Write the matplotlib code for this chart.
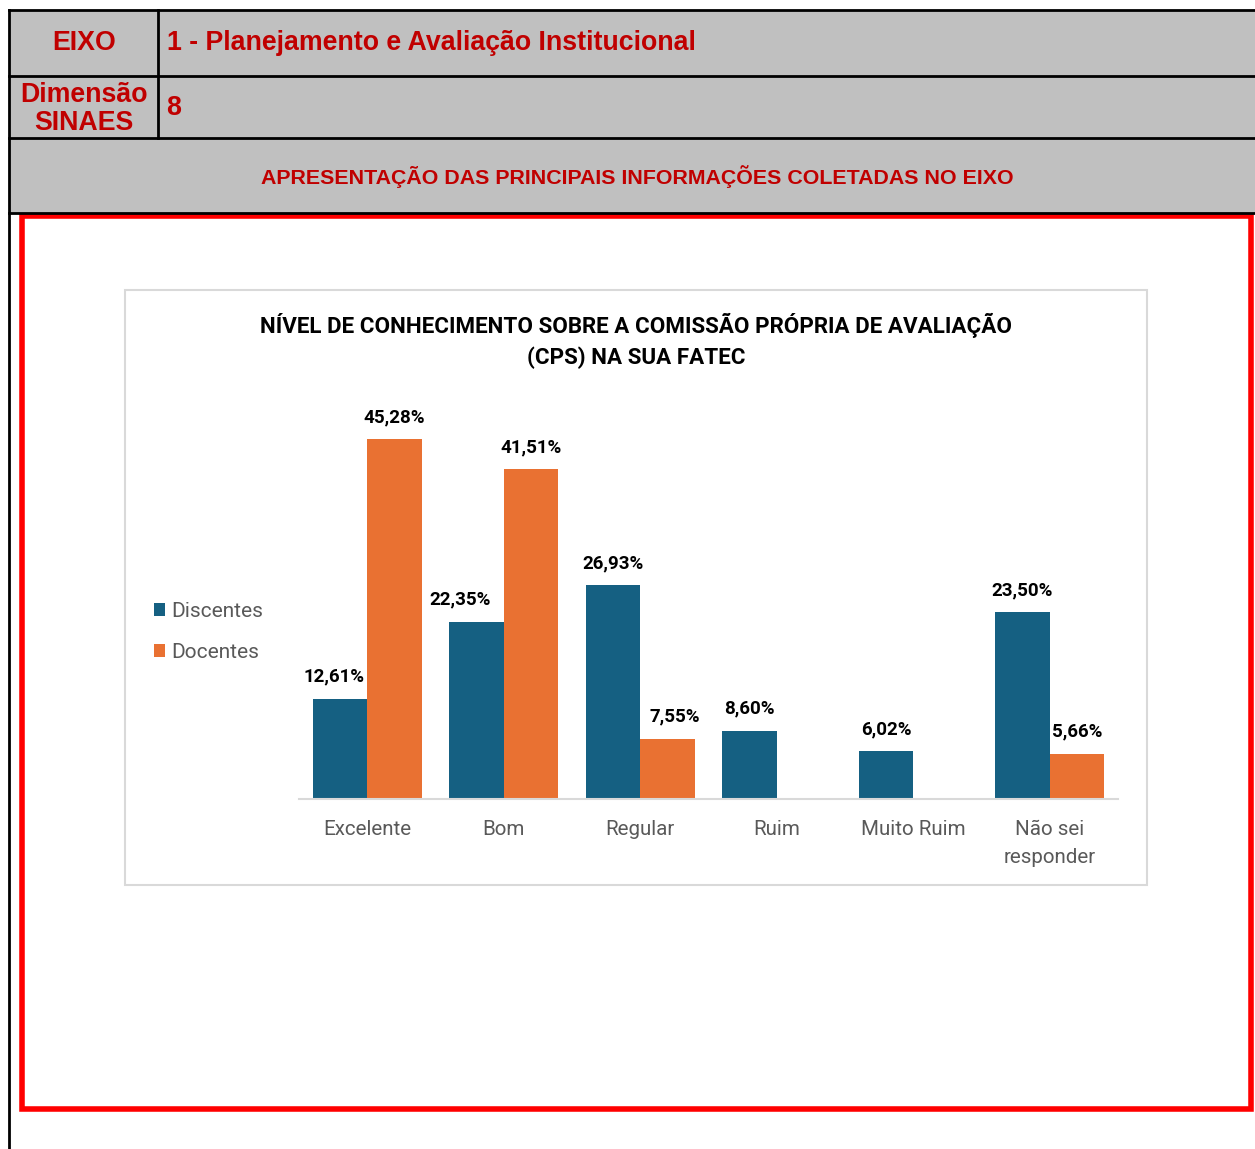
import matplotlib
matplotlib.use("Agg")
import matplotlib.pyplot as plt
from matplotlib.patches import Rectangle
import numpy as np

# ---- data ----
categories = ["Excelente", "Bom", "Regular", "Ruim", "Muito Ruim", "Não sei\nresponder"]
discentes = [12.61, 22.35, 26.93, 8.60, 6.02, 23.50]
docentes = [45.28, 41.51, 7.55, None, None, 5.66]
series_names = ["Discentes", "Docentes"]
chart_title = "NÍVEL DE CONHECIMENTO SOBRE A COMISSÃO PRÓPRIA DE AVALIAÇÃO\n(CPS) NA SUA FATEC"
header_eixo = "EIXO"
header_eixo_val = "1 - Planejamento e Avaliação Institucional"
header_dim = "Dimensão\nSINAES"
header_dim_val = "8"
header_apres = "APRESENTAÇÃO DAS PRINCIPAIS INFORMAÇÕES COLETADAS NO EIXO"

W, H = 1255, 1149
fig = plt.figure(figsize=(W / 100, H / 100), dpi=100)
fig.patch.set_facecolor("white")

def fx(x):
    return x / W

def fy(y):
    return 1 - y / H

def rect(x0, y0, x1, y1, **kw):
    fig.patches.append(Rectangle((fx(x0), fy(y1)), fx(x1) - fx(x0), fy(y0) - fy(y1),
                                 transform=fig.transFigure, figure=fig, **kw))

def hline(y, x0, x1, color="black", lw=2):
    fig.add_artist(plt.Line2D([fx(x0), fx(x1)], [fy(y), fy(y)], transform=fig.transFigure,
                              color=color, lw=lw))

def vline(x, y0, y1, color="black", lw=2):
    fig.add_artist(plt.Line2D([fx(x), fx(x)], [fy(y0), fy(y1)], transform=fig.transFigure,
                              color=color, lw=lw))

GRAY = "#c0c0c0"
RED_T = "#c00000"

# header table
rect(9, 10, W + 5, 213, facecolor=GRAY, edgecolor="none")
hline(10, 9, W)
hline(75.5, 9, W)
hline(138, 9, W)
hline(213, 9, W)
vline(9, 10, H)
vline(158, 10, 138)

hfont = dict(family="Liberation Sans", weight="bold", color=RED_T)
fig.text(fx(84), fy(43), header_eixo, ha="center", va="center", fontsize=19.3, **hfont)
fig.text(fx(167), fy(43), header_eixo_val, ha="left", va="center", fontsize=19.3, **hfont)
fig.text(fx(84), fy(109), header_dim, ha="center", va="center", fontsize=19.3,
         linespacing=1.12, **hfont)
fig.text(fx(166), fy(108), header_dim_val, ha="left", va="center", fontsize=19.3, **hfont)
fig.text(fx(637), fy(177), header_apres, ha="center", va="center", fontsize=15.4, **hfont)

# red box
rect(21.5, 216, 1251, 1109, facecolor="white", edgecolor="#ff0000", lw=4)

# chart box
rect(125, 290, 1147, 885, facecolor="white", edgecolor="#d9d9d9", lw=1.5)

fig.text(fx(636), fy(341), chart_title, ha="center", va="center", fontsize=16.1,
         family="Roboto", weight="bold", color="black", linespacing=1.5)

# axes
ax = fig.add_axes([fx(299), fy(799), fx(1118) - fx(299), (799 - 402) / H])
ax.set_zorder(5)
ax.set_facecolor("none")
BLUE = "#156082"
ORANGE = "#e97132"
x = np.arange(len(categories))
bw = 0.4
d_vals = np.array(discentes, dtype=float)
o_vals = np.array([v if v is not None else 0 for v in docentes], dtype=float)
b1 = ax.bar(x - bw / 2, d_vals, width=bw, color=BLUE, label=series_names[0])
b2 = ax.bar(x + bw / 2, o_vals, width=bw, color=ORANGE, label=series_names[1])
ax.set_xlim(-0.5, len(categories) - 0.5)
ax.set_ylim(0, 50)
for s in ["top", "right", "left"]:
    ax.spines[s].set_visible(False)
ax.spines["bottom"].set_color("#d9d9d9")
ax.spines["bottom"].set_linewidth(1.5)
ax.set_yticks([])
ax.set_xticks(x)
ax.set_xticklabels(categories, fontsize=14.8, color="#595959", family="Roboto", linespacing=1.6)
ax.tick_params(axis="x", length=0, pad=15)

def fmt(v):
    return f"{v:.2f}".replace(".", ",") + "%"

d_dx = [-4, -12, 0, 0, 0, 0]
o_dx = [0, 0, 5, 0, 0, 0]
for i, v in enumerate(discentes):
    ax.annotate(fmt(v), (x[i] - bw / 2, v), xytext=(d_dx[i], 16), textcoords="offset points",
                ha="center", va="center", fontsize=13.5, weight="bold", family="Roboto",
                color="black")
for i, v in enumerate(docentes):
    if v is None:
        continue
    ax.annotate(fmt(v), (x[i] + bw / 2, v), xytext=(o_dx[i], 16), textcoords="offset points",
                ha="center", va="center", fontsize=13.5, weight="bold", family="Roboto",
                color="black")

leg = fig.legend(handles=[b1, b2], labels=series_names, loc="upper left",
                 bbox_to_anchor=(fx(135), fy(583)), frameon=False,
                 prop=dict(family="Roboto", size=15), handlelength=0.55, handleheight=0.55,
                 handletextpad=0.3, labelspacing=1.05)
leg.set_zorder(6)
for t in leg.get_texts():
    t.set_color("#595959")

fig.savefig("out.png", dpi=100, facecolor="white")
